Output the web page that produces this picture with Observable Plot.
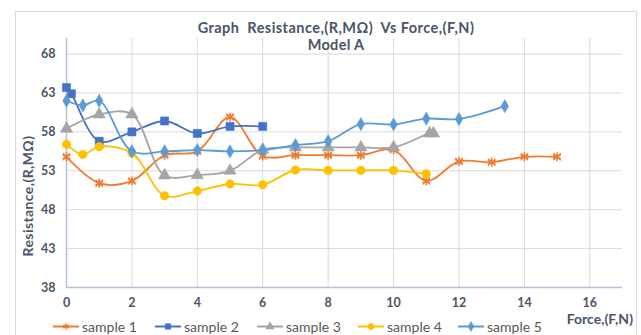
<!DOCTYPE html>
<html><head><meta charset="utf-8">
<script src="https://cdn.jsdelivr.net/npm/d3@7"></script>
<script src="https://cdn.jsdelivr.net/npm/@observablehq/plot@0.6"></script>
<style>
body{margin:0;background:#fff;}
#wrap{position:relative;width:641px;height:335px;overflow:hidden;font-family:Lato,"Open Sans",sans-serif;}
#frame{position:absolute;left:15px;top:11px;width:622px;height:340px;border:1px solid #d9d9d9;box-sizing:border-box;}
#chart{position:absolute;left:0;top:0;}
.t{position:absolute;white-space:pre;color:#4a5568;font-weight:bold;line-height:1;}
#title{left:336px;top:28px;transform:translate(-50%,-50%);font-size:14.5px;letter-spacing:0.45px;}
#sub{left:336px;top:45px;transform:translate(-50%,-50%);font-size:14.5px;letter-spacing:0.3px;}
#ylab{left:28px;top:196px;transform:translate(-50%,-50%) rotate(-90deg);font-size:14px;letter-spacing:0.4px;}
#xlab{right:8px;top:319px;transform:translateY(-50%);font-size:14px;}
#legend{position:absolute;left:0;top:326px;width:641px;}
.li{position:absolute;top:0;transform:translateY(-50%);display:flex;align-items:center;font-size:14px;color:#595959;white-space:nowrap;}
.li svg{margin-right:3px;}
</style></head><body>
<div id="wrap">
  <div id="frame"></div>
  <div id="chart"></div>
  <div class="t" id="title">Graph  Resistance,(R,MΩ)  Vs Force,(F,N)</div>
  <div class="t" id="sub">Model A</div>
  <div class="t" id="ylab">Resistance,(R,MΩ)</div>
  <div class="t" id="xlab">Force,(F,N)</div>
  <div id="legend"></div>
</div>
<script>
// ---- data ----
const seriesNames = ["sample 1","sample 2","sample 3","sample 4","sample 5"];
const seriesColors = ["#ED7D31","#4472C4","#A5A5A5","#FFC000","#5B9BD5"];
const seriesSymbols = ["asterisk","square","triangle","circle","diamond"];

const s1Force = [0,1,2,3,4,5,6,7,8,9,10,11,12,13,14,15];
const s1Res   = [54.8,51.4,51.7,55.0,55.5,59.9,54.9,55.0,55.0,55.0,55.7,51.7,54.2,54.1,54.8,54.8];

const s2Force = [0,0.15,1,2,3,4,5,6];
const s2Res   = [63.7,62.9,56.8,58.0,59.4,57.8,58.7,58.7];

const s3Force = [0,1,2,3,4,5,6,7,8,9,10,11.1,11.22];
const s3Res   = [58.4,60.25,60.25,52.4,52.45,53.0,55.7,56.0,56.0,56.0,56.0,57.8,57.8];

const s4Force = [0,0.5,1,2,3,4,5,6,7,8,9,10,11];
const s4Res   = [56.4,55.1,56.1,55.3,49.8,50.4,51.3,51.2,53.1,53.05,53.05,53.05,52.6];

const s5Force = [0,0.5,1,2,3,4,5,6,7,8,9,10,11,12,13.4];
const s5Res   = [62.0,61.4,62.0,55.5,55.5,55.65,55.5,55.65,56.3,56.8,59.0,58.95,59.7,59.65,61.3];

const xTicks = [0,2,4,6,8,10,12,14,16];
const yTicks = [38,43,48,53,58,63,68];

const allForce = [s1Force,s2Force,s3Force,s4Force,s5Force];
const allRes = [s1Res,s2Res,s3Res,s4Res,s5Res];
const tables = allForce.map((fs,i)=>fs.map((f,j)=>({force:f,res:allRes[i][j],series:seriesNames[i]})));

const dotR = [4.2,4.6,4.6,4.3,4.0];
const marks = [
  Plot.gridX(xTicks,{stroke:"#d9d9d9",strokeOpacity:1}),
  Plot.gridY(yTicks.filter(v=>v>38),{stroke:"#d9d9d9",strokeOpacity:1}),
  Plot.ruleX([0],{stroke:"#b4c2d8",strokeWidth:1.5}),
  Plot.ruleY([38],{stroke:"#b4c2d8",strokeWidth:1.5}),
];
tables.forEach((t,i)=>{
  marks.push(Plot.line(t,{x:"force",y:"res",stroke:seriesColors[i],strokeWidth:1.8,curve:"catmull-rom"}));
  if (seriesSymbols[i]==="asterisk") {
    marks.push(Plot.dot(t,{x:"force",y:"res",symbol:"asterisk",stroke:seriesColors[i],strokeWidth:1.6,r:dotR[i]}));
    marks.push(Plot.dot(t,{x:"force",y:"res",symbol:"times",stroke:seriesColors[i],strokeWidth:1.2,r:dotR[i]*0.8}));
  } else {
    marks.push(Plot.dot(t,{x:"force",y:"res",symbol:seriesSymbols[i],fill:seriesColors[i],stroke:seriesColors[i],strokeWidth:0.5,r:dotR[i]}));
  }
});

const chart = Plot.plot({
  width:641, height:335,
  marginLeft:66, marginRight:19, marginTop:38, marginBottom:48,
  x:{domain:[0,17], ticks:xTicks, label:null, tickSize:0, tickPadding:11},
  y:{domain:[38,70], ticks:yTicks, label:null, tickSize:0, tickPadding:11},
  style:{fontFamily:"Lato, sans-serif", fontSize:"12.5px", fontWeight:"bold", color:"#4a5568", background:"transparent"},
  marks
});
document.getElementById("chart").append(chart);

// legend
const legendX = [53,155,257,358,458];
const leg = document.getElementById("legend");
seriesNames.forEach((n,i)=>{
  const d = document.createElement("div");
  d.className="li"; d.style.left=legendX[i]+"px";
  const sym = {asterisk:d3.symbolAsterisk,square:d3.symbolSquare,triangle:d3.symbolTriangle,circle:d3.symbolCircle,diamond:d3.symbolDiamond}[seriesSymbols[i]];
  const path = d3.symbol(sym, 30)();
  const filled = seriesSymbols[i]!=="asterisk";
  d.innerHTML = `<svg width="26" height="12"><line x1="0" y1="6" x2="26" y2="6" stroke="${seriesColors[i]}" stroke-width="1.8"/>`+
    `<path transform="translate(13,6)" d="${path}" fill="${filled?seriesColors[i]:"none"}" stroke="${seriesColors[i]}" stroke-width="${filled?0.5:1.4}"/></svg><span>${n}</span>`;
  leg.append(d);
});
</script>
</body></html>
